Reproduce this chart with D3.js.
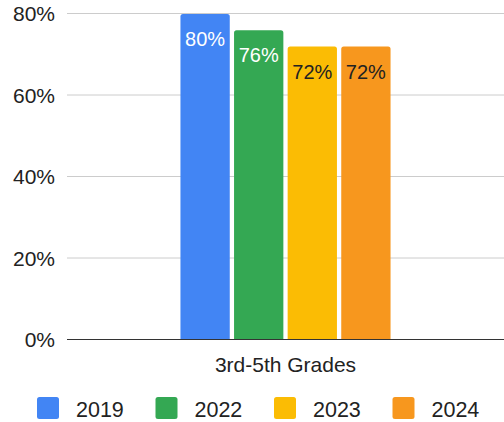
<!DOCTYPE html>
<html>
<head>
<meta charset="utf-8">
<script src="https://cdn.jsdelivr.net/npm/d3@7"></script>
<style>
  body { margin: 0; background: #fff; }
  svg { font-family: Arial, "Liberation Sans", sans-serif; }
</style>
</head>
<body>
<svg id="chart" width="504" height="422"></svg>
<script>
  var categories = ['3rd-5th Grades']
  var years = ['2019', '2022', '2023', '2024']
  var values = [80, 76, 72, 72]
  var colors = ['#4285f4', '#34a853', '#fbbc04', '#f7971e']
  var labelColors = ['#ffffff', '#ffffff', '#222222', '#222222']
  var yTicks = [0, 20, 40, 60, 80]

  var svg = d3.select('#chart')
  var margin = { top: 13, right: 0, bottom: 83, left: 67 }
  var width = 504 - margin.left - margin.right
  var height = 422 - margin.top - margin.bottom

  var y = d3.scaleLinear().domain([0, 80]).range([height, 0])
  var x0 = d3.scaleBand().domain(categories).range([0, width]).paddingInner(0).paddingOuter(0.54)
  var x1 = d3.scaleBand().domain(years).range([0, x0.bandwidth()]).paddingInner(0.08)

  var g = svg.append('g')
    .attr('transform', 'translate(' + margin.left + ',' + margin.top + ')')

  // grid lines
  g.selectAll('.grid')
    .data(yTicks.filter(function (d) { return d > 0 }))
    .enter()
    .append('line')
    .attr('class', 'grid')
    .attr('x1', 0)
    .attr('x2', width)
    .attr('y1', function (d) { return y(d) + 0.5 })
    .attr('y2', function (d) { return y(d) + 0.5 })
    .attr('stroke', '#cccccc')
    .attr('stroke-width', 1)

  // y labels
  g.selectAll('.ylab')
    .data(yTicks)
    .enter()
    .append('text')
    .attr('class', 'ylab')
    .attr('x', -12)
    .attr('y', function (d) { return y(d) + 8 })
    .attr('text-anchor', 'end')
    .attr('font-size', 21)
    .attr('fill', '#222')
    .text(function (d) { return d + '%' })

  var group = g.selectAll('.cat')
    .data(categories)
    .enter()
    .append('g')
    .attr('transform', function (d) { return 'translate(' + x0(d) + ',0)' })

  var r = 2.5
  group.selectAll('path.bar')
    .data(years)
    .enter()
    .append('path')
    .attr('class', 'bar')
    .attr('fill', function (d, i) { return colors[i] })
    .attr('d', function (d, i) {
      var bx = x1(d), bw = x1.bandwidth()
      var top = y(values[i]) + 1, bottom = y(0)
      return 'M' + bx + ',' + bottom +
        'V' + (top + r) +
        'Q' + bx + ',' + top + ' ' + (bx + r) + ',' + top +
        'H' + (bx + bw - r) +
        'Q' + (bx + bw) + ',' + top + ' ' + (bx + bw) + ',' + (top + r) +
        'V' + bottom + 'Z'
    })

  group.selectAll('text.val')
    .data(years)
    .enter()
    .append('text')
    .attr('class', 'val')
    .attr('x', function (d) { return x1(d) + x1.bandwidth() / 2 })
    .attr('y', function (d, i) { return y(values[i]) + 33 })
    .attr('text-anchor', 'middle')
    .attr('font-size', 20)
    .attr('fill', function (d, i) { return labelColors[i] })
    .text(function (d, i) { return values[i] + '%' })

  // zero axis line
  g.append('line')
    .attr('x1', 0)
    .attr('x2', width)
    .attr('y1', y(0) + 0.5)
    .attr('y2', y(0) + 0.5)
    .attr('stroke', '#333')
    .attr('stroke-width', 1.2)

  // category label
  g.selectAll('.xlab')
    .data(categories)
    .enter()
    .append('text')
    .attr('class', 'xlab')
    .attr('x', function (d) { return x0(d) + x0.bandwidth() / 2 })
    .attr('y', height + 33)
    .attr('text-anchor', 'middle')
    .attr('font-size', 21)
    .attr('fill', '#222')
    .text(function (d) { return d })

  // legend
  var legend = svg.append('g').attr('transform', 'translate(37,397)')
  var item = legend.selectAll('.leg')
    .data(years)
    .enter()
    .append('g')
    .attr('transform', function (d, i) { return 'translate(' + (i * 118.5) + ',0)' })
  item.append('rect')
    .attr('width', 22)
    .attr('height', 22)
    .attr('rx', 2.5)
    .attr('fill', function (d, i) { return colors[i] })
  item.append('text')
    .attr('x', 39)
    .attr('y', 20)
    .attr('font-size', 21.5)
    .attr('fill', '#222')
    .text(function (d) { return d })
</script>
</body>
</html>
